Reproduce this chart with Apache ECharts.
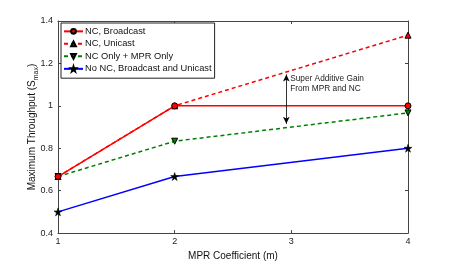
<!DOCTYPE html>
<html><head><meta charset="utf-8">
<script src="https://cdn.jsdelivr.net/npm/echarts@6/dist/echarts.min.js"></script>
<style>html,body{margin:0;padding:0;background:#fff}#c{width:450px;height:266px}</style>
</head><body><div id="c"></div>
<script>
var mprCoeff = [1, 2, 4];
var ncBroadcast = [0.6667, 1.0, 1.0];
var ncUnicast = [0.6667, 1.0, 1.3333];
var ncOnlyMpr = [0.6667, 0.8333, 0.9667];
var noNc = [0.5, 0.6667, 0.8];
var seriesNames = ['NC, Broadcast', 'NC, Unicast', 'NC Only + MPR Only', 'No NC, Broadcast and Unicast'];
var xTicks = [1, 2, 3, 4];
var yTicks = [0.4, 0.6, 0.8, 1, 1.2, 1.4];
var annotationText = 'Super Additive Gain\nFrom MPR and NC';
var arrowX = 2.957, arrowTop = 1.148, arrowBottom = 0.915;
var textPos = [2.99, 1.104];

function pairs(ys){ return mprCoeff.map(function(x,i){ return [x, ys[i]]; }); }
var FONT = 'Liberation Sans';
var star = 'path://M0,-1L0.2245,-0.309L0.9511,-0.309L0.3633,0.118L0.5878,0.809L0,0.382L-0.5878,0.809L-0.3633,0.118L-0.9511,-0.309L-0.2245,-0.309Z';

var chart = echarts.init(document.getElementById('c'), null, {renderer:'canvas'});
var axisCommon = {
  axisLine:{show:true, lineStyle:{color:'#444', width:1}},
  axisTick:{show:true, inside:true, length:3, lineStyle:{color:'#444'}},
  splitLine:{show:false}
};
chart.setOption({
  animation:false,
  backgroundColor:'#fff',
  textStyle:{fontFamily:FONT},
  grid:{left:58, right:42, top:21, bottom:30, show:false},
  legend:{
    orient:'vertical', left:61, top:23, padding:[3,3,4,2],
    backgroundColor:'#fff', borderColor:'#222', borderWidth:1,
    itemWidth:19, itemHeight:6, itemGap:1.8,
    textStyle:{fontFamily:FONT, fontSize:9.3, lineHeight:10.7, color:'#111', padding:[0,0,0,-3]},
    data:seriesNames
  },
  xAxis:[
    Object.assign({type:'value', min:1, max:4, interval:1, position:'bottom',
      name:'MPR Coefficient (m)', nameLocation:'middle', nameGap:17,
      nameTextStyle:{fontFamily:FONT, fontSize:10, color:'#111'},
      axisLabel:{fontFamily:FONT, fontSize:9, color:'#222', margin:4,
        customValues: xTicks}}, axisCommon),
    Object.assign({type:'value', min:1, max:4, interval:1, position:'top',
      axisLabel:{show:false}}, axisCommon)
  ],
  yAxis:[
    Object.assign({type:'value', min:0.4, max:1.4, interval:0.2, position:'left',
      name:'{a|Maximum Throughput (S}{b|max}{a|)}', nameLocation:'middle', nameGap:18, nameRotate:90,
      nameMoveOverlap:false,
      nameTextStyle:{rich:{
        a:{fontFamily:FONT, fontSize:10, color:'#111', lineHeight:16, verticalAlign:'middle'},
        b:{fontFamily:FONT, fontSize:7, color:'#111', verticalAlign:'bottom', lineHeight:16}
      }},
      axisLabel:{fontFamily:FONT, fontSize:9, color:'#222', margin:5,
        formatter:function(v){ return String(+v.toFixed(1)); }}}, axisCommon),
    Object.assign({type:'value', min:0.4, max:1.4, interval:0.2, position:'right',
      axisLabel:{show:false}}, axisCommon)
  ],
  series:[
    {name:seriesNames[0], type:'line', data:pairs(ncBroadcast), symbol:'circle', symbolSize:6,
      lineStyle:{color:'#ff0000', width:1.5}, itemStyle:{color:'#ff0000', borderColor:'#000', borderWidth:1}, z:4},
    {name:seriesNames[1], type:'line', data:pairs(ncUnicast), symbol:'triangle', symbolSize:6,
      lineStyle:{color:'#ff0000', width:1.5, type:[4,3]}, itemStyle:{color:'#ff0000', borderColor:'#000', borderWidth:1}, z:3,
      markLine:{silent:true, symbol:['arrow','arrow'], symbolSize:[5,7], animation:false,
        lineStyle:{color:'#000', width:0.8, type:'solid'}, label:{show:false},
        data:[[{coord:[arrowX, arrowTop]}, {coord:[arrowX, arrowBottom]}]]},
      markPoint:{silent:true, symbol:'circle', symbolSize:0,
        label:{show:true, position:'right', distance:0, formatter:annotationText, fontFamily:FONT,
          fontSize:8.3, color:'#222', lineHeight:10, align:'left'},
        data:[{coord:textPos}]}},
    {name:seriesNames[2], type:'line', data:pairs(ncOnlyMpr), symbol:'triangle', symbolRotate:180, symbolSize:6,
      lineStyle:{color:'#008000', width:1.5, type:[4,3]}, itemStyle:{color:'#008000', borderColor:'#000', borderWidth:1}, z:3},
    {name:seriesNames[3], type:'line', data:pairs(noNc), symbol:star, symbolSize:8,
      lineStyle:{color:'#0000ff', width:1.5}, itemStyle:{color:'#000', borderColor:'#000', borderWidth:0.5}, z:3}
  ]
});
</script></body></html>
